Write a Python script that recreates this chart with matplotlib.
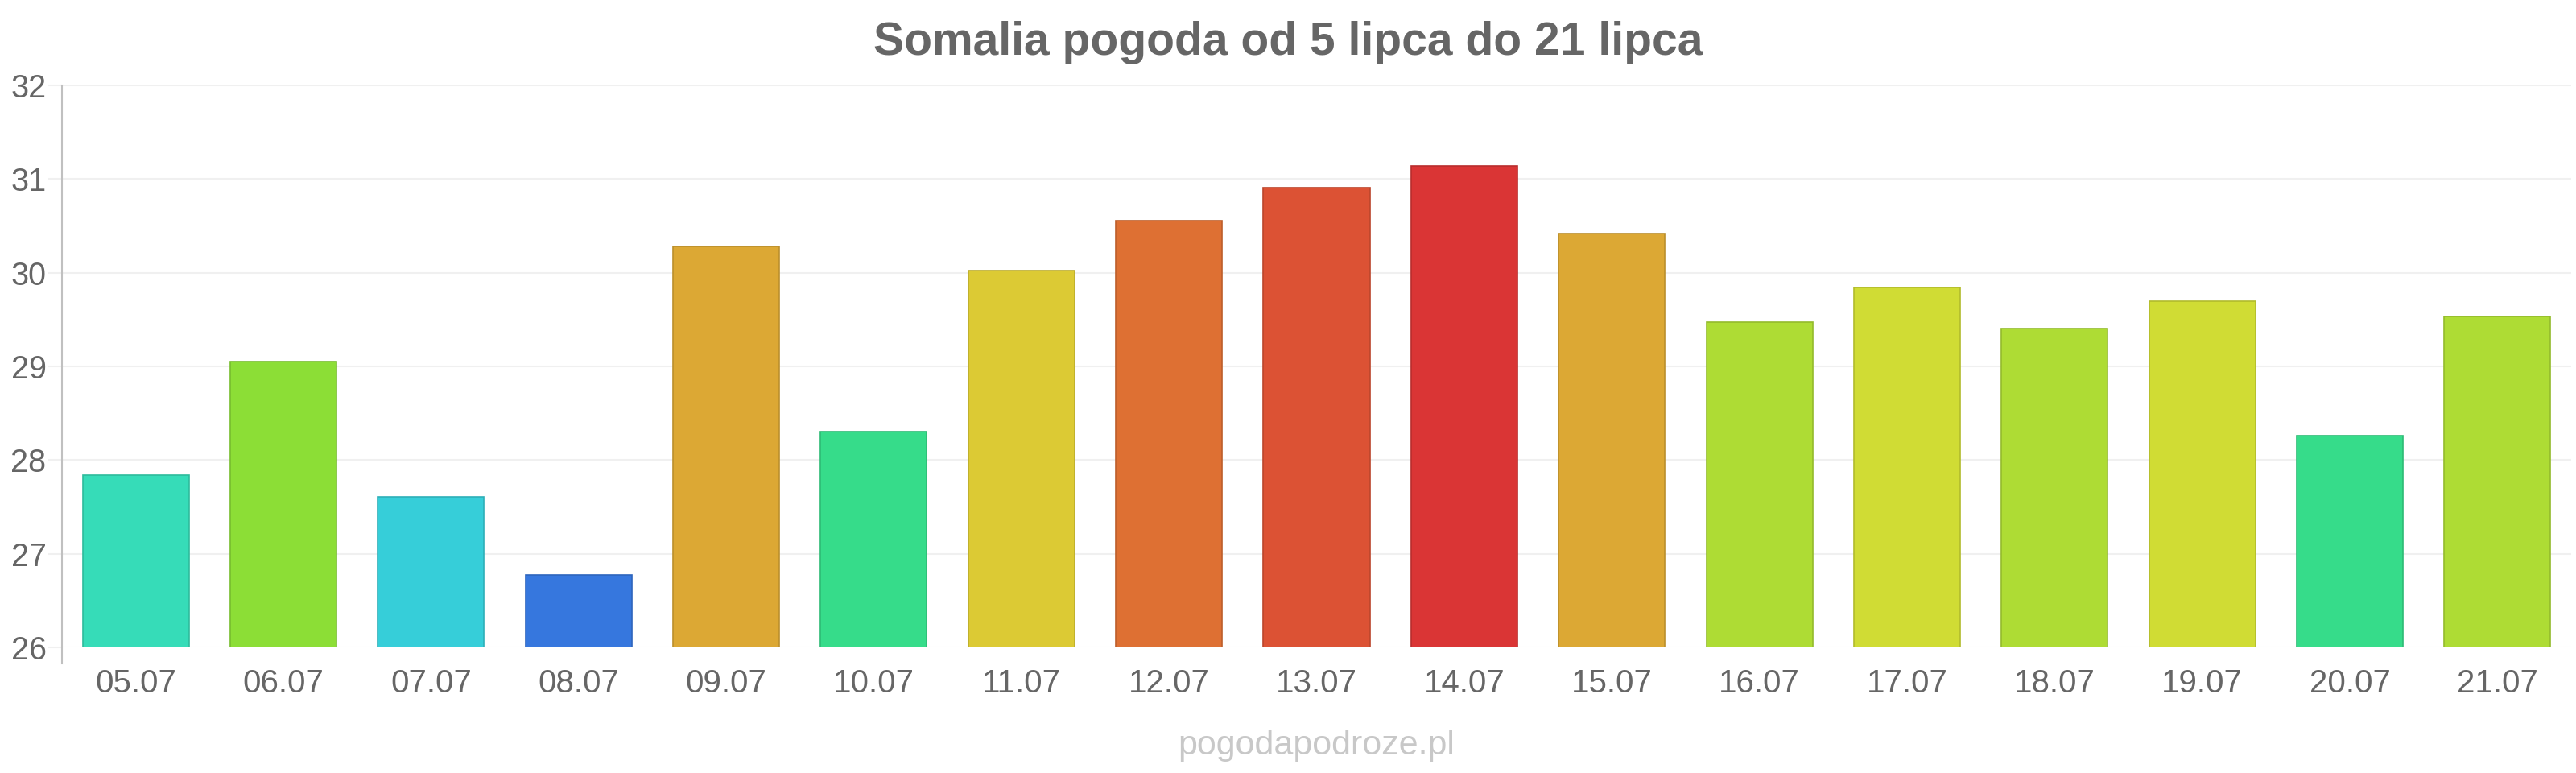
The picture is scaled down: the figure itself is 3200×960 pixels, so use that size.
import matplotlib
matplotlib.use("Agg")
import matplotlib.pyplot as plt
import matplotlib.colors as mcolors

plt.rcParams['font.family'] = ['Liberation Sans', 'DejaVu Sans']

dates = ["05.07", "06.07", "07.07", "08.07", "09.07", "10.07", "11.07", "12.07", "13.07",
         "14.07", "15.07", "16.07", "17.07", "18.07", "19.07", "20.07", "21.07"]
temps = [27.84, 29.05, 27.61, 26.77, 30.28, 28.30, 30.02, 30.56, 30.91,
         31.14, 30.42, 29.47, 29.84, 29.40, 29.70, 28.26, 29.53]
bar_colors = ["#36DCB8", "#8CDE36", "#36CED9", "#3677DE", "#DCA834", "#36DC8A", "#DCCA34",
              "#DE7033", "#DC5234", "#DA3535", "#DCA834", "#AEDC34", "#D0DC34", "#AEDC34",
              "#D0DC34", "#36DC8A", "#AEDC34"]
y_ticks = [26, 27, 28, 29, 30, 31, 32]
title = "Somalia pogoda od 5 lipca do 21 lipca"
watermark = "pogodapodroze.pl"

W, H = 3200, 960
fig = plt.figure(figsize=(W / 100, H / 100), dpi=100)
ax = fig.add_axes([77 / W, (H - 804) / H, (3194 - 77) / W, (804 - 106) / H])

def darker(c, f=0.85):
    r, g, b = mcolors.to_rgb(c)
    return (r * f, g * f, b * f)

x = list(range(len(dates)))
heights = [t - y_ticks[0] for t in temps]
ax.bar(x, heights, bottom=y_ticks[0], width=0.72, color=bar_colors,
       edgecolor=[darker(c) for c in bar_colors], linewidth=1.2, zorder=3)

ax.set_xlim(-0.5, len(dates) - 0.5)
ax.set_ylim(y_ticks[0], y_ticks[-1])
ax.set_yticks(y_ticks)
ax.set_xticks(x)
ax.set_xticklabels(dates)

ax.grid(axis='y', color='#f0f0f0', linewidth=1.5, zorder=0)
ax.grid(axis='x', visible=False)
for s in ['top', 'right', 'bottom']:
    ax.spines[s].set_visible(False)
ax.spines['left'].set_color('#c0c0c0')
ax.spines['left'].set_linewidth(1.5)
ax.spines['left'].set_bounds(25.83, 32)

ax.tick_params(axis='y', colors='#f0f0f0', labelcolor='#666666', labelsize=28.5,
               length=12, width=1.5, pad=2)
ax.tick_params(axis='x', length=0, labelcolor='#666666', labelsize=29, pad=19)

fig.text(0.5, 1 - 53 / H, title, ha='center', va='center', fontsize=41,
         fontweight='bold', color='#666666')
fig.text(801 / 1568, 1 - 926 / H, watermark, ha='center', va='center', fontsize=31,
         color='#c8c8c8')

fig.savefig("out.png", dpi=100, facecolor='white')
